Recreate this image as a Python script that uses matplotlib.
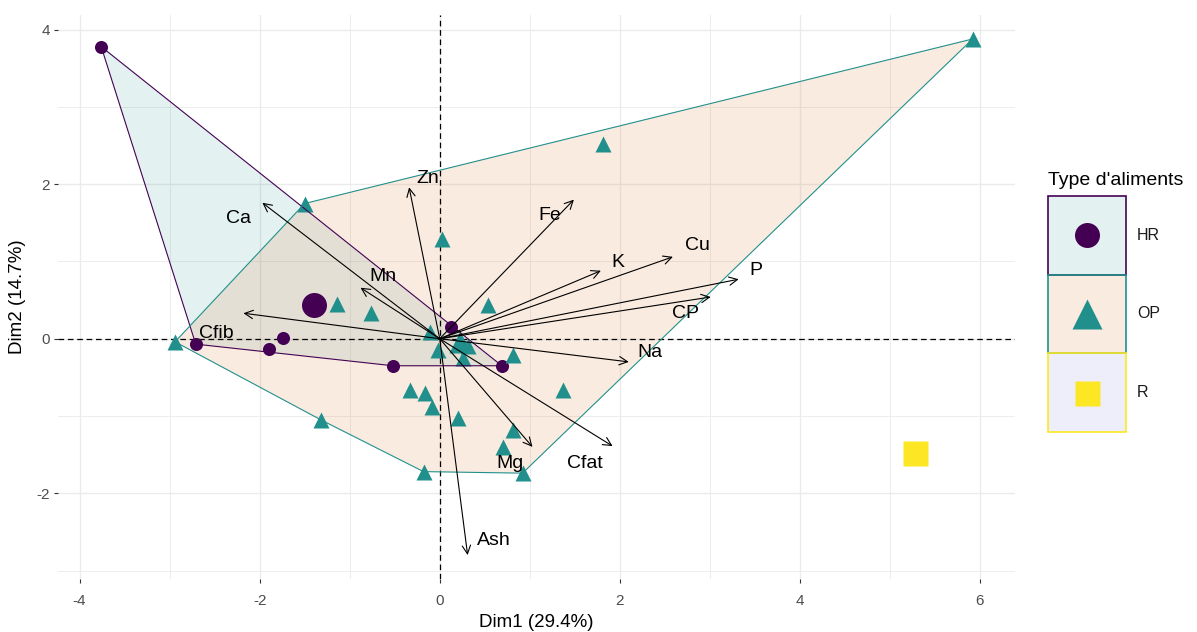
import numpy as np
import matplotlib.pyplot as plt
from matplotlib.patches import Rectangle
from matplotlib.colors import to_rgba

plt.rcParams['font.family'] = ['Liberation Sans', 'DejaVu Sans']
plt.rcParams['axes.unicode_minus'] = False

# individuals on the first two dimensions, by food type
hr_x = [-3.76, -2.71, -1.90, -1.74, -0.52, 0.69, 0.13]
hr_y = [3.78, -0.07, -0.13, 0.01, -0.35, -0.35, 0.15]

op_x = [5.92, 1.81, -1.50, 0.02, -1.14, -0.76, 0.54, -0.11, -0.02, 0.26, 0.81, 0.22,
        0.31, -2.94, -1.32, -0.33, -0.16, -0.09, 0.20, 0.81, 0.70, 1.37, -0.18, 0.92]
op_y = [3.88, 2.52, 1.75, 1.29, 0.45, 0.33, 0.44, 0.09, -0.14, -0.25, -0.21, -0.02,
        -0.10, -0.04, -1.05, -0.66, -0.70, -0.88, -1.02, -1.18, -1.40, -0.66, -1.72, -1.74]

r_x = [5.28]
r_y = [-1.48]

# variables (arrow tips) and their label positions
var_names = ['Zn', 'Ca', 'Mn', 'Cfib', 'Fe', 'K', 'Cu', 'P', 'CP', 'Na', 'Cfat', 'Mg', 'Ash']
var_x = [-0.34, -1.97, -0.88, -2.18, 1.49, 1.79, 2.59, 3.32, 3.01, 2.10, 1.92, 1.03, 0.31]
var_y = [1.96, 1.76, 0.66, 0.33, 1.80, 0.88, 1.06, 0.77, 0.54, -0.30, -1.39, -1.40, -2.80]
lab_x = [-0.13, -2.24, -0.63, -2.48, 1.22, 1.98, 2.86, 3.51, 2.73, 2.33, 1.61, 0.78, 0.60]
lab_y = [2.08, 1.56, 0.80, 0.07, 1.60, 0.99, 1.21, 0.88, 0.33, -0.18, -1.61, -1.61, -2.61]

groups = ['HR', 'OP', 'R']
group_x = [hr_x, op_x, r_x]
group_y = [hr_y, op_y, r_y]
colors = ['#440154', '#21908C', '#FDE725']
fills = [to_rgba('#21908C', 0.12), to_rgba('#DE7A30', 0.15), to_rgba('#5B5BD6', 0.10)]
markers = ['o', '^', 's']
pt_size = [9.4, 11.5, 9.4]
mean_size = [18, 16.5, 18]


def convex_hull(xs, ys):
    pts = sorted(set(zip(xs, ys)))
    if len(pts) < 3:
        return pts

    def cross(o, a, b):
        return (a[0] - o[0]) * (b[1] - o[1]) - (a[1] - o[1]) * (b[0] - o[0])

    lower, upper = [], []
    for p in pts:
        while len(lower) >= 2 and cross(lower[-2], lower[-1], p) <= 0:
            lower.pop()
        lower.append(p)
    for p in reversed(pts):
        while len(upper) >= 2 and cross(upper[-2], upper[-1], p) <= 0:
            upper.pop()
        upper.append(p)
    return lower[:-1] + upper[:-1]


fig = plt.figure(figsize=(11.97, 6.32), dpi=100)
ax = fig.add_axes([58 / 1197, 1 - 579 / 632, (1015 - 58) / 1197, (579 - 15) / 632])

# hulls
for gx, gy, col, fc in zip(group_x, group_y, colors, fills):
    hull = convex_hull(gx, gy)
    if len(hull) >= 3:
        hx = [p[0] for p in hull]
        hy = [p[1] for p in hull]
        ax.fill(hx, hy, facecolor=fc, edgecolor='none', zorder=1)
        ax.plot(hx + [hx[0]], hy + [hy[0]], color=col, lw=0.8, zorder=3.5)

ax.axhline(0, color='black', lw=0.9, ls=(0, (4.5, 3)), zorder=2)
ax.axvline(0, color='black', lw=0.9, ls=(0, (4.5, 3)), zorder=2)

# individuals and group means
for gx, gy, col, m, s, ms in zip(group_x, group_y, colors, markers, pt_size, mean_size):
    ax.plot(gx, gy, ls='', marker=m, ms=s, color=col, mec='none', zorder=3)
    ax.plot(np.mean(gx), np.mean(gy), ls='', marker=m, ms=ms, color=col, mec='none', zorder=3.2)

# variable arrows
for name, vx, vy, tx, ty in zip(var_names, var_x, var_y, lab_x, lab_y):
    ax.annotate('', xy=(vx, vy), xytext=(0, 0),
                arrowprops=dict(arrowstyle='->,head_length=0.5,head_width=0.25',
                                lw=0.8, color='black', shrinkA=0, shrinkB=0,
                                mutation_scale=12), zorder=4)
    ax.text(tx, ty, name, fontsize=14, ha='center', va='center', color='black', zorder=5)

ax.set_xlim(-4.24, 6.39)
ax.set_ylim(-3.11, 4.19)
ax.set_xticks([-4, -2, 0, 2, 4, 6])
ax.set_yticks([-2, 0, 2, 4])
ax.set_xticks([-3, -1, 1, 3, 5], minor=True)
ax.set_yticks([-3, -1, 1, 3], minor=True)
ax.grid(which='major', color='#EBEBEB', lw=1.0, zorder=0)
ax.grid(which='minor', color='#EDEDED', lw=0.7, zorder=0)
ax.set_axisbelow(True)
for sp in ax.spines.values():
    sp.set_visible(False)
ax.tick_params(which='major', length=3, width=0.8, color='#333333', labelcolor='#4D4D4D', labelsize=11)
ax.tick_params(which='minor', length=0)
ax.tick_params(axis='x', pad=8)
ax.tick_params(axis='y', pad=3)
ax.set_xlabel('Dim1 (29.4%)', fontsize=13.5, labelpad=4)
ax.set_ylabel('Dim2 (14.7%)', fontsize=13.5, labelpad=7)

# legend
lax = fig.add_axes([1048 / 1197, 1 - 432 / 632, 78 / 1197, (432 - 196) / 632])
lax.set_xlim(0, 1)
lax.set_ylim(0, 3)
lax.axis('off')
leg_size = [18, 21, 18]
for i, (g, col, fc, m, ls) in enumerate(zip(groups, colors, fills, markers, leg_size)):
    y0 = 2 - i
    lax.add_patch(Rectangle((0, y0), 1, 1, facecolor=fc, edgecolor=col, lw=1.2, clip_on=False))
    lax.plot(0.5, y0 + 0.5, ls='', marker=m, ms=ls, color=col, mec='none', clip_on=False)
    lax.text(1.14, y0 + 0.5, g, fontsize=11.5, ha='left', va='center', color='#1A1A1A')
lax.text(0, 3.09, "Type d'aliments", fontsize=14, ha='left', va='bottom', color='black')

fig.savefig('out.png', dpi=100)
